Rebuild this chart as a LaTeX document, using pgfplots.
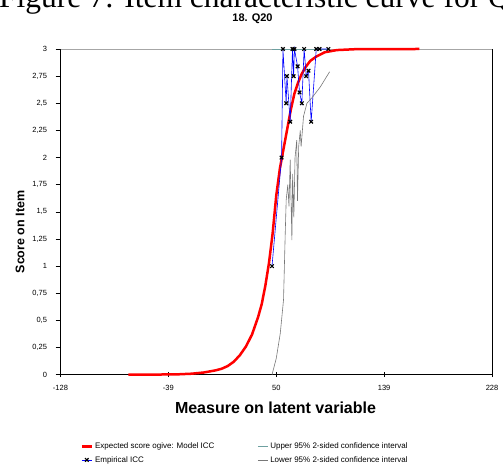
\documentclass[border=0pt]{standalone}
\usepackage{pgfplots}
\pgfplotsset{compat=1.18}
\usepackage{fontspec}
\setmainfont{Liberation Serif}
\setsansfont{Liberation Sans}
\newfontfamily\arial{Liberation Sans}

\definecolor{iccred}{RGB}{255,0,0}
\definecolor{iccblue}{RGB}{0,0,255}
\definecolor{upperci}{RGB}{110,160,160}
\definecolor{lowerci}{RGB}{120,120,120}

\begin{document}
\begin{tikzpicture}[x=1bp,y=1bp]
\useasboundingbox (0,0) rectangle (503,466);
% caption of the page, cut off at the top
\node[anchor=base west, inner sep=0pt, font=\fontsize{31.5bp}{32bp}\selectfont] at (-1,458.7) {Figure 7: Item characteristic curve for Q20};
\node[anchor=base, inner sep=0pt, font=\arial\bfseries\fontsize{11bp}{12bp}\selectfont] at (252.5,444.3) {18. Q20};

\begin{axis}[
    scale only axis,
    width=431.5bp, height=325.7bp,
    at={(60.5bp,91.3bp)}, anchor=south west,
    xmin=-128, xmax=228, ymin=0, ymax=3,
    clip=false,
    axis x line*=bottom, axis y line*=left,
    axis line style={black, line width=0.8bp, -},
    xtick={-128,-39,50,139,228},
    ytick={0,0.25,0.5,0.75,1,1.25,1.5,1.75,2,2.25,2.5,2.75,3},
    yticklabels={0,{0,25},{0,5},{0,75},1,{1,25},{1,5},{1,75},2,{2,25},{2,5},{2,75},3},
    xtick align=center, ytick align=outside,
    major tick length=5bp,
    tick style={black, line width=0.6bp},
    ticklabel style={font=\arial\fontsize{7.5bp}{8bp}\selectfont},
    xticklabel style={yshift=-5bp},
    yticklabel style={xshift=-5bp},
    /pgf/number format/assume math mode=true,
    legend columns=2,
    legend cell align=left,
    legend style={at={(rel axis cs:0.046,-0.203)}, anchor=north west,
        draw=none, fill=none, inner sep=0pt,
        font=\arial\fontsize{8bp}{9bp}\selectfont,
        /tikz/every even column/.append style={column sep=41bp},
        row sep=2bp},
    legend image code/.code={\draw[mark repeat=2,mark phase=2,#1] plot coordinates {(0bp,0bp) (5bp,0bp) (10bp,0bp)};},
]
\draw[gray!70, line width=0.8bp] (rel axis cs:0,1) -- (rel axis cs:1,1);
\draw[black, line width=0.8bp] (rel axis cs:1,0) -- (rel axis cs:1,1);

% model ICC
\addplot[iccred, line width=2.5bp, no marks] coordinates {
    (-72,0) (-50,0.001) (-30,0.004) (-20,0.009) (-10,0.02) (0,0.04) (5,0.055)
    (10,0.08) (15,0.12) (20,0.18) (25,0.26) (30,0.37) (35,0.53) (38,0.65)
    (41,0.82) (44,1.03) (47,1.3) (50,1.65) (53,1.9) (56,2.08) (59,2.26)
    (62,2.44) (65,2.59) (68,2.69) (71,2.77) (74,2.83) (78,2.89) (83,2.93)
    (90,2.97) (100,2.99) (115,2.998) (168,3.0)
};
\addlegendentry{Expected score ogive: Model ICC}

% upper confidence interval
\addplot[upperci, line width=0.8bp, no marks] coordinates {
    (46.5,2.995) (60,2.995) (75,2.995) (94,2.995)
};
\addlegendentry{Upper 95\% 2-sided confidence interval}

% empirical ICC
\addplot[iccblue, line width=0.6bp, mark=x, mark size=2.5bp,
    mark options={black, line width=1.2bp}] coordinates {
    (46.5,1.0) (54.4,2.0) (55.5,3.0) (58.2,2.5) (58.8,2.75) (61.5,2.33)
    (63.4,3.0) (64.3,2.75) (65,3.0) (67.6,2.84) (69.2,2.6) (71.1,2.5)
    (73,3.0) (74.7,2.75) (76.6,2.8) (78.8,2.33) (83,3.0) (85.7,3.0) (93,3.0)
};
\addlegendentry{Empirical ICC}

% lower confidence interval
\addplot[lowerci, line width=0.6bp, no marks] coordinates {
    (46.5,0) (50,0.15) (53.3,0.38) (56,0.69) (57.4,1.3) (58.2,1.61)
    (59.5,1.75) (60.5,1.55) (61.5,1.98) (62.9,1.24) (63.5,1.85) (64.5,1.45)
    (65.5,2.0) (66.9,2.16) (67.5,1.6) (68.5,2.1) (69.8,2.25) (70.5,2.1)
    (72.5,2.38) (75.3,2.5) (79.4,2.55) (86.3,2.65) (94,2.79)
};
\addlegendentry{Lower 95\% 2-sided confidence interval}
\end{axis}

\node[rotate=90, inner sep=0pt, font=\arial\bfseries\fontsize{12.5bp}{13bp}\selectfont] at (20,234) {Score on Item};
\node[anchor=base, inner sep=0pt, font=\arial\bfseries\fontsize{16bp}{17bp}\selectfont] at (275.5,52) {Measure on latent variable};
\end{tikzpicture}
\end{document}
